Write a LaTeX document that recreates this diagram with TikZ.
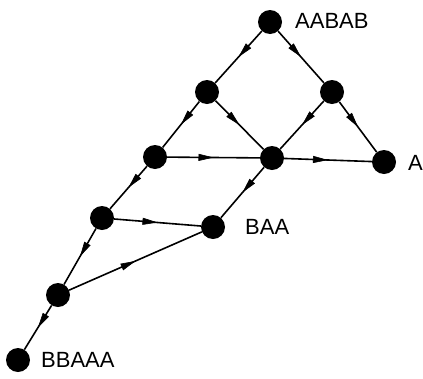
\documentclass[tikz,border=0pt]{standalone}
\usepackage{fontspec}
\setmainfont{Liberation Sans}
\usetikzlibrary{decorations.markings,arrows.meta}
\begin{document}
\begin{tikzpicture}[x=1pt,y=-1pt,
  vtx/.style={circle,fill=black,inner sep=0pt,minimum size=24pt},
  lbl/.style={font=\fontsize{22}{22}\selectfont,anchor=west,inner sep=0pt},
  edge/.style={line width=1.6pt,postaction={decorate},
    decoration={markings,mark=at position 0.5 with {\arrow[line width=0.6pt]{Triangle[length=15pt,width=7pt]}}}}]
\useasboundingbox (0,0) rectangle (423,378);
\node[vtx] (n1) at (270,22) {};
\node[vtx] (n2) at (207,92) {};
\node[vtx] (n3) at (332,92) {};
\node[vtx] (n4) at (155,157) {};
\node[vtx] (n5) at (272,158) {};
\node[vtx] (n6) at (384,162) {};
\node[vtx] (n7) at (102,218) {};
\node[vtx] (n8) at (213,227) {};
\node[vtx] (n9) at (58,295) {};
\node[vtx] (n10) at (18,360) {};
\node[lbl] (l1) at (295,21) {AABAB};
\node[lbl] (l6) at (408,163) {A};
\node[lbl] (l8) at (245,227) {BAA};
\node[lbl] (l10) at (41,360) {BBAAA};
\draw[edge] (n1) -- (n2);
\draw[edge] (n1) -- (n3);
\draw[edge] (n2) -- (n4);
\draw[edge] (n2) -- (n5);
\draw[edge] (n3) -- (n5);
\draw[edge] (n3) -- (n6);
\draw[edge] (n4) -- (n5);
\draw[edge] (n5) -- (n6);
\draw[edge] (n4) -- (n7);
\draw[edge] (n5) -- (n8);
\draw[edge] (n7) -- (n8);
\draw[edge] (n7) -- (n9);
\draw[edge] (n9) -- (n8);
\draw[edge] (n9) -- (n10);
\end{tikzpicture}
\end{document}
